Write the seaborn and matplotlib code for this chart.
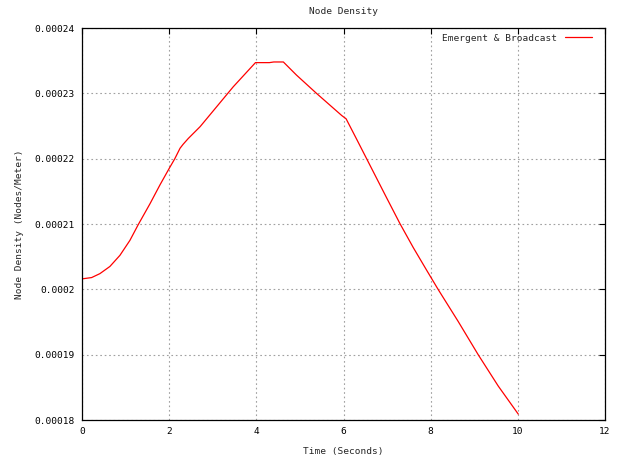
import matplotlib
matplotlib.use("Agg")
import matplotlib.pyplot as plt
import seaborn as sns
import pandas as pd
from matplotlib.ticker import FuncFormatter

# Node density over time for the emergent & broadcast scheme
time_s = [0.0, 0.22, 0.41, 0.64, 0.87, 1.10, 1.29, 1.56, 1.79, 2.0, 2.13,
          2.25, 2.32, 2.44, 2.71, 3.47, 3.98, 4.3, 4.4, 4.62, 4.92, 5.38,
          5.96, 6.06, 6.30, 6.53, 6.76, 6.99, 7.30, 7.60, 7.91, 8.17, 8.63,
          9.09, 9.55, 10.01]
density = [0.0002016, 0.0002018, 0.0002024, 0.0002035, 0.0002052, 0.0002075,
           0.0002099, 0.0002131, 0.000216, 0.0002185, 0.00022,
           0.0002216, 0.0002222, 0.0002231, 0.0002249, 0.000231, 0.0002347,
           0.0002347, 0.0002348, 0.0002348, 0.0002328, 0.00023,
           0.0002266, 0.0002261, 0.000223, 0.00022, 0.000217, 0.000214,
           0.00021, 0.0002064, 0.0002029, 0.0002, 0.0001951,
           0.00019, 0.0001852, 0.0001809]
series_label = "Emergent & Broadcast"

x_ticks = [0, 2, 4, 6, 8, 10, 12]
y_ticks = [0.00018, 0.00019, 0.0002, 0.00021, 0.00022, 0.00023, 0.00024]

df = pd.DataFrame({"Time": time_s, "Density": density})

sns.set_style("white")
plt.rcParams["font.family"] = ["DejaVu Sans Mono", "DejaVu Sans"]
plt.rcParams["font.size"] = 6.8

fig = plt.figure(figsize=(6.18, 4.59), dpi=100)
ax = fig.add_axes([82 / 618, 1 - 420 / 459, (605 - 82) / 618, (420 - 28) / 459])

sns.lineplot(data=df, x="Time", y="Density", color="#ff0000", linewidth=0.9,
             label=series_label, ax=ax, sort=False)

ax.set_xlim(0, 12)
ax.set_ylim(0.00018, 0.00024)
ax.set_xticks(x_ticks)
ax.set_yticks(y_ticks)
ax.yaxis.set_major_formatter(FuncFormatter(lambda v, p: f"{v:g}"))
ax.xaxis.set_major_formatter(FuncFormatter(lambda v, p: f"{v:g}"))

ax.grid(True, color="#a0a0a0", linestyle=(0, (1.5, 2.5)), linewidth=0.8)
ax.tick_params(direction="in", length=4, width=0.8, top=True, right=True,
               labelsize=6.8, colors="black", pad=5)
for sp in ax.spines.values():
    sp.set_color("black")
    sp.set_linewidth(0.9)

ax.set_title("Node Density", fontsize=6.8, pad=10)
ax.set_xlabel("Time (Seconds)", fontsize=6.8, labelpad=8)
ax.set_ylabel("Node Density (Nodes/Meter)", fontsize=6.8, labelpad=8)

ax.legend(loc="upper right", bbox_to_anchor=(1 - 5 / 523, 1 + 2 / 392),
          frameon=False, markerfirst=False, handlelength=2.9, fontsize=6.8,
          borderaxespad=0.4)

fig.savefig("out.png", dpi=100)
